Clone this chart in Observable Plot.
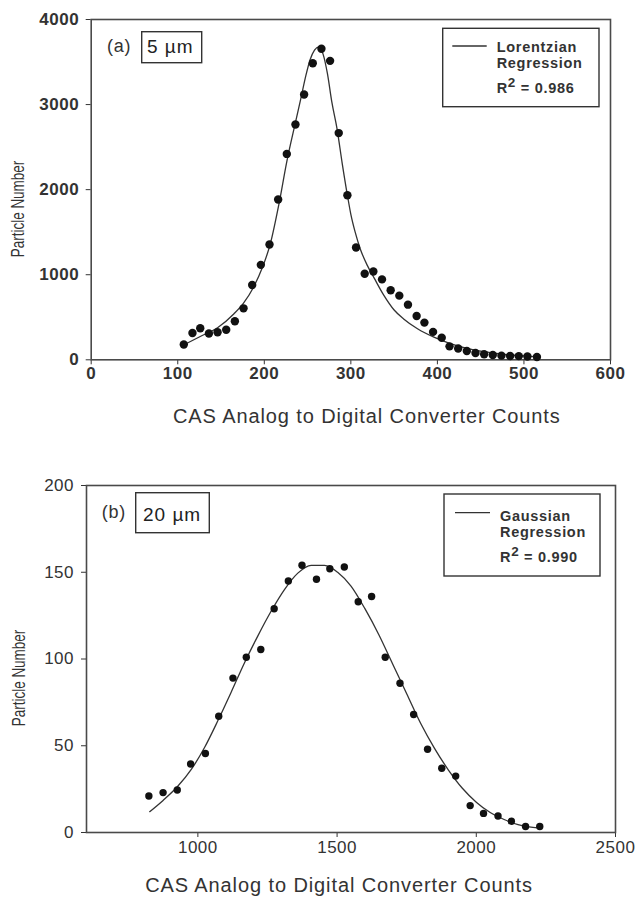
<!DOCTYPE html>
<html>
<head>
<meta charset="utf-8">
<script src="https://cdn.jsdelivr.net/npm/d3@7"></script>
<script src="https://cdn.jsdelivr.net/npm/@observablehq/plot@0.6"></script>
<style>
  html, body { margin: 0; padding: 0; background: #fff; }
  #chart svg { display: block; }
</style>
</head>
<body>
<div id="chart"></div>
<script>
// ---------- Panel (a): 5 µm ----------
const aCounts = [107,117,126,136,146,156,166,176,186,196,206,216,226,236,246,256,266,276,286,296,306,316,326,336,346,356,366,376,385,395,405,414,424,434,444,454,464,474,484,494,504,515];
const aParticles = [180,315,370,310,323,353,454,605,879,1116,1355,1884,2420,2766,3118,3485,3656,3514,2665,1935,1320,1011,1038,945,818,754,648,515,437,328,260,158,133,104,80,66,57,49,45,43,39,33];
// Lorentzian regression curve
const lorCounts = [105,126,146,165,176,188,198,207,217,226,236,242,248,253,258,263,268,273,278,284,290,296,300,305,311,319,327,338,350,361,377,396,415,434,454,473,492,515];
const lorParticles = [165,274,376,541,666,862,1090,1365,1835,2330,2790,3060,3340,3530,3640,3678,3590,3360,3031,2718,2310,1935,1710,1500,1300,1110,960,760,585,480,365,266,190,135,95,68,51,35];
const aTicksX = [0,100,200,300,400,500,600];
const aTicksY = [0,1000,2000,3000,4000];
const aLabel = "(a)";
const aSize = "5 µm";
const aLegend = ["Lorentzian", "Regression", "0.986"];

// ---------- Panel (b): 20 µm ----------
const bCounts = [824,875,926,974,1027,1075,1126,1174,1226,1274,1325,1374,1426,1474,1526,1576,1624,1673,1726,1775,1825,1876,1926,1978,2026,2078,2126,2177,2228];
const bParticles = [21,23,24.5,39.5,45.5,67,89,101,105.5,129,145,154,146,152,153,133,136,101,86,68,48,37,32.5,15.5,11,9.5,6.5,3.5,3.5];
// Gaussian regression curve
const gauCounts = [827,875,927,977,1024,1072,1120,1168,1216,1263,1311,1359,1407,1455,1502,1550,1600,1650,1700,1750,1800,1850,1900,1950,2000,2050,2100,2150,2228];
const gauParticles = [12,18.5,26.5,36.5,49,64.5,81,98,113.5,127.5,140,149.5,154,154,150,142,129,114,97,80,63,48.5,36,25.5,17.5,11.5,7.5,4.5,2.5];
const bTicksX = [1000,1500,2000,2500];
const bTicksY = [0,50,100,150,200];
const bLabel = "(b)";
const bSize = "20 µm";
const bLegend = ["Gaussian", "Regression", "0.990"];

const xTitle = "CAS Analog to Digital Converter Counts";
const yTitle = "Particle Number";

const fontFamily = "'Liberation Sans', Arial, Helvetica, sans-serif";
const zip = (xs, ys) => xs.map((x, i) => ({x, y: ys[i]}));

function panel(cfg) {
  const svg = Plot.plot({
    width: 636,
    height: cfg.height,
    marginTop: cfg.mt, marginRight: cfg.mr, marginBottom: cfg.mb, marginLeft: cfg.ml,
    style: {fontFamily, background: "#fff", color: "#333", overflow: "visible"},
    x: {domain: cfg.xDomain},
    y: {domain: cfg.yDomain},
    marks: [
      Plot.axisX({ticks: cfg.ticksX, tickSize: 5, tickPadding: cfg.xPad, tickFormat: "d",
        fontSize: 17, fontWeight: cfg.tickWeight, label: null}),
      Plot.axisY({ticks: cfg.ticksY, tickSize: 5, tickPadding: cfg.yPad, tickFormat: "d",
        fontSize: 17, fontWeight: cfg.tickWeight, label: null}),
      Plot.frame({stroke: "#4a4a4a", strokeWidth: 1.6}),
      Plot.line(zip(cfg.fitX, cfg.fitY), {x: "x", y: "y", curve: "monotone-x", stroke: "#333", strokeWidth: 1.3}),
      Plot.dot(zip(cfg.ptX, cfg.ptY), {x: "x", y: "y", r: cfg.r, fill: "#111", stroke: "none"}),
      Plot.text([xTitle], {text: d => d, frameAnchor: "bottom", lineAnchor: "bottom",
        dx: cfg.xtDx, dy: cfg.xtDy, fontSize: 20, fill: "#333"})
    ]
  });
  const s = d3.select(svg);
  s.selectAll('g[aria-label="x-axis tick label"] text, g[aria-label="y-axis tick label"] text')
    .attr("letter-spacing", "0.5");
  s.selectAll('g[aria-label="text"] text').filter(function() { return this.textContent === xTitle; })
    .attr("letter-spacing", "0.9");

  const ann = s.append("g").attr("text-anchor", "start").attr("font-family", fontFamily);
  // y axis title (rotated)
  ann.append("text")
    .attr("text-anchor", "middle").attr("dominant-baseline", "central")
    .attr("transform", `translate(${cfg.yt.x},${cfg.yt.y}) rotate(-90) scale(1,1.35)`)
    .attr("font-size", 13.5).attr("fill", "#333").text(yTitle);
  // panel label and size box
  ann.append("text").attr("x", cfg.lab.x).attr("y", cfg.lab.y)
    .attr("font-size", 18).attr("fill", "#333").attr("letter-spacing", "0.8").text(cfg.label);
  ann.append("rect").attr("x", cfg.box.x).attr("y", cfg.box.y).attr("width", cfg.box.w).attr("height", cfg.box.h)
    .attr("fill", "#fff").attr("stroke", "#333").attr("stroke-width", 1.4);
  ann.append("text").attr("x", cfg.box.tx).attr("y", cfg.box.ty)
    .attr("font-size", 19).attr("fill", "#222").attr("letter-spacing", "1").text(cfg.size);

  // legend
  const L = cfg.leg;
  ann.append("rect").attr("x", L.x).attr("y", L.y).attr("width", L.w).attr("height", L.h)
    .attr("fill", "#fff").attr("stroke", "#333").attr("stroke-width", 1.4);
  ann.append("line").attr("x1", L.lx1).attr("x2", L.lx2).attr("y1", L.ly).attr("y2", L.ly)
    .attr("stroke", "#333").attr("stroke-width", 1.3);
  const t = ann.append("g").attr("font-size", 14.5).attr("font-weight", "bold").attr("fill", "#333")
    .attr("letter-spacing", "0.7");
  t.append("text").attr("x", L.tx).attr("y", L.b1).text(cfg.legend[0]);
  t.append("text").attr("x", L.tx).attr("y", L.b2).text(cfg.legend[1]);
  const r = t.append("text").attr("x", L.tx).attr("y", L.b3);
  r.append("tspan").text("R");
  r.append("tspan").attr("dy", -6).attr("font-size", 13.5).text("2");
  r.append("tspan").attr("dy", 6).text(" = " + cfg.legend[2]);
  return svg;
}

const chart = document.getElementById("chart");

chart.appendChild(panel({
  height: 440, mt: 19, mr: 26, mb: 80.7, ml: 90.7,
  xDomain: [0, 600], yDomain: [0, 4000], ticksX: aTicksX, ticksY: aTicksY,
  xPad: 2.5, yPad: 7, tickWeight: "bold",
  fitX: lorCounts, fitY: lorParticles, ptX: aCounts, ptY: aParticles, r: 4.2,
  xtDx: 16, xtDy: 63,
  yt: {x: 17.5, y: 209},
  label: aLabel, size: aSize, legend: aLegend,
  lab: {x: 107, y: 51.5},
  box: {x: 141.7, y: 31.7, w: 60, h: 31, tx: 147, ty: 53.3},
  leg: {x: 442.7, y: 28.3, w: 156.3, h: 78.4, lx1: 452.3, lx2: 486.7, ly: 46, tx: 496.7, b1: 51.7, b2: 68.3, b3: 93.3}
}));

chart.appendChild(panel({
  height: 459, mt: 45, mr: 21, mb: 67, ml: 86,
  xDomain: [600, 2500], yDomain: [0, 200], ticksX: bTicksX, ticksY: bTicksY,
  xPad: 3, yPad: 7.5, tickWeight: "normal",
  fitX: gauCounts, fitY: gauParticles, ptX: bCounts, ptY: bParticles, r: 3.7,
  xtDx: -12, xtDy: 59,
  yt: {x: 17.9, y: 238},
  label: bLabel, size: bSize, legend: bLegend,
  lab: {x: 101.7, y: 78},
  box: {x: 135.7, y: 52.7, w: 73.6, h: 40, tx: 143, ty: 80.7},
  leg: {x: 444, y: 54, w: 156, h: 82, lx1: 455, lx2: 490, ly: 72.7, tx: 500, b1: 80.7, b2: 96.7, b3: 121.7}
}));
</script>
</body>
</html>
